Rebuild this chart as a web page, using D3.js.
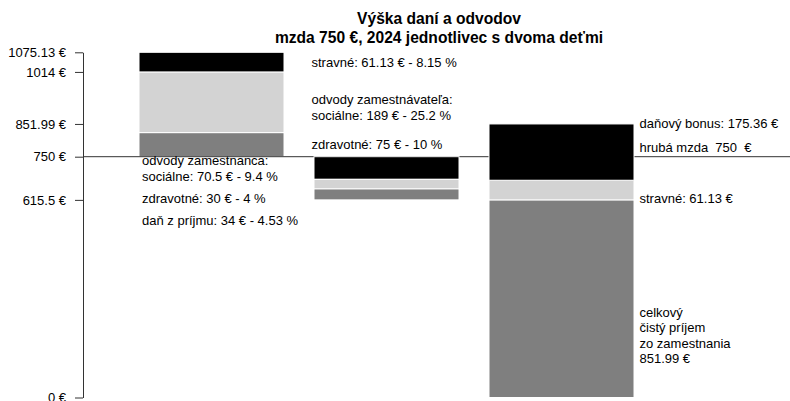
<!DOCTYPE html>
<html>
<head>
<meta charset="utf-8">
<script src="https://cdn.jsdelivr.net/npm/d3@7"></script>
<style>
  html, body { margin: 0; padding: 0; background: #fff; }
  svg { display: block; }
  text { font-family: "Liberation Sans", Arial, Helvetica, sans-serif; white-space: pre; }
</style>
</head>
<body>
<svg id="chart" width="790" height="401"></svg>
<script>
// ---- data ----
const titleLines = ["Výška daní a odvodov", "mzda 750 €, 2024 jednotlivec s dvoma deťmi"];
const categories = ["odvody zamestnávateľa", "odvody zamestnanca", "čistý príjem"];
const grossWage = 750;
// bar 1: employer costs stacked upward from gross wage (zdravotné, sociálne, stravné)
const employerParts = [75, 189, 61.13];
// bar 2: employee deductions stacked downward from gross wage (sociálne, zdravotné, daň)
const employeeParts = [70.5, 30, 34];
// bar 3: net income stacked upward from zero (čistá mzda, stravné, daňový bonus)
const netParts = [615.5, 61.13, 175.36];
const tickValues = [0, 615.5, 750, 851.99, 1014, 1075.13];
const tickLabels = ["0 €", "615.5 €", "750 €", "851.99 €", "1014 €", "1075.13 €"];
const employerLabels = [
  ["zdravotné: 75 € - 10 %"],
  ["odvody zamestnávateľa:", "sociálne: 189 € - 25.2 %"],
  ["stravné: 61.13 € - 8.15 %"]
];
const employeeLabels = [
  ["odvody zamestnanca:", "sociálne: 70.5 € - 9.4 %"],
  ["zdravotné: 30 € - 4 %"],
  ["daň z príjmu: 34 € - 4.53 %"]
];
const netLabels = [
  ["celkový", "čistý príjem", "zo zamestnania", "851.99 €"],
  ["stravné: 61.13 €"],
  ["daňový bonus: 175.36 €"]
];
const grossLabel = "hrubá mzda  750  €";

// ---- styles ----
const segColorsUp = ["#7f7f7f", "#d3d3d3", "#000000"];   // bottom -> top
const segColorsDown = ["#000000", "#d3d3d3", "#7f7f7f"]; // top -> bottom

const svg = d3.select("#chart");
const y = d3.scaleLinear().domain([0, 1075.13]).range([397.5, 52.3]);
const x = d3.scaleBand().domain(categories).range([139, 634]).paddingInner(30 / 175).paddingOuter(0);

// stack helpers
function stackUp(base, parts) {
  let acc = base;
  return parts.map((v, i) => { const s = { y0: acc, y1: acc + v, i }; acc += v; return s; });
}
function stackDown(base, parts) {
  let acc = base;
  return parts.map((v, i) => { const s = { y0: acc - v, y1: acc, i }; acc -= v; return s; });
}
const segs1 = stackUp(grossWage, employerParts);
const segs2 = stackDown(grossWage, employeeParts);
const segs3 = stackUp(0, netParts);

// title
svg.append("g").selectAll("text").data(titleLines).join("text")
  .attr("x", 439).attr("y", (d, i) => 24 + i * 19)
  .attr("text-anchor", "middle")
  .attr("font-weight", "bold").attr("font-size", "15.6px")
  .text(d => d);

// bars
function drawBar(segs, cat, colors) {
  svg.append("g").selectAll("rect").data(segs).join("rect")
    .attr("x", x(cat)).attr("width", x.bandwidth())
    .attr("y", d => y(d.y1)).attr("height", d => y(d.y0) - y(d.y1))
    .attr("fill", d => colors[d.i])
    .attr("stroke", "#fff").attr("stroke-width", 1);
}
drawBar(segs1, categories[0], segColorsUp);

// gross wage reference line
svg.append("line")
  .attr("x1", 83).attr("x2", 790)
  .attr("y1", y(grossWage)).attr("y2", y(grossWage))
  .attr("stroke", "#333").attr("stroke-width", 1);

drawBar(segs2, categories[1], segColorsDown);
drawBar(segs3, categories[2], segColorsUp);

// axis
const axis = d3.axisLeft(y).tickValues(tickValues)
  .tickFormat((d, i) => tickLabels[i])
  .tickSize(8).tickSizeOuter(0).tickPadding(9);
const ag = svg.append("g").attr("transform", "translate(83,0)").call(axis);
ag.attr("font-size", 13).attr("font-family", "Liberation Sans, Arial, sans-serif");
ag.selectAll("text").attr("fill", "#000");
ag.selectAll("line, path").attr("stroke", "#333");

// labels
function drawLabels(lines, xPos, baseY) {
  svg.append("g").selectAll("text").data(lines).join("text")
    .attr("x", xPos).attr("y", (d, i) => baseY + i * 15.5)
    .attr("font-size", "13px").attr("fill", "#000")
    .text(d => d);
}
// employer labels (right of bar 1)
drawLabels(employerLabels[2], 311.5, 66.8);
drawLabels(employerLabels[1], 311.5, 104);
drawLabels(employerLabels[0], 311.5, 149.3);
// employee labels (below bar 1)
drawLabels(employeeLabels[0], 142, 165);
drawLabels(employeeLabels[1], 142, 203.3);
drawLabels(employeeLabels[2], 142, 224.5);
// net labels (right of bar 3)
drawLabels(netLabels[2], 639.5, 127.5);
drawLabels([grossLabel], 639.5, 151.7);
drawLabels(netLabels[1], 639.5, 203.3);
drawLabels(netLabels[0], 639.5, 316.5);
</script>
</body>
</html>
